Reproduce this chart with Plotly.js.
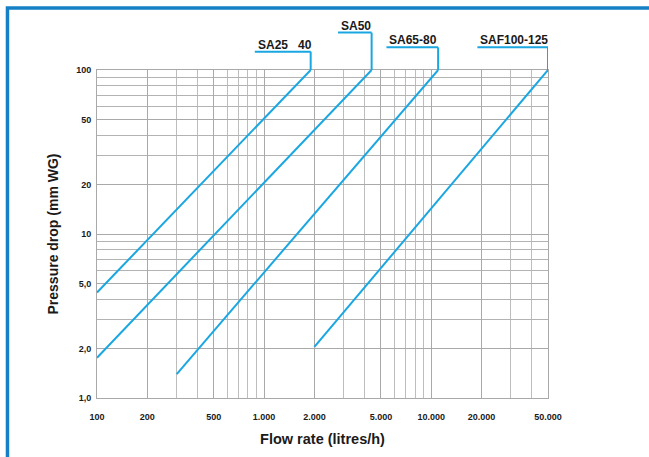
<!DOCTYPE html>
<html>
<head>
<meta charset="utf-8">
<script src="https://cdn.plot.ly/plotly-3.0.1.min.js"></script>
<style>
  html, body { margin: 0; padding: 0; background: #ffffff; }
  #chart { width: 649px; height: 457px; }
</style>
</head>
<body>
<div id="chart"></div>
<script>
// ---- data ----
const seriesNames = ['SA25\u00a0\u00a0\u00a040', 'SA50', 'SA65-80', 'SAF100-125'];
// flow rate (litres/h): start and end of each straight line
const seriesFlow = [
  [100, 1900],
  [100, 4400],
  [300, 11000],
  [2000, 50000]
];
// pressure drop (mm WG) at those points
const seriesDrop = [
  [4.4, 100],
  [1.76, 100],
  [1.4, 100],
  [2.05, 100]
];
// where each label's underline starts (flow value) and its height above the plot (fraction of plot height)
const labelFlow = [880, 2770, 5400, 18900];
const labelLevel = [1.056, 1.114, 1.069, 1.069];

const xTickVals = [100, 200, 500, 1000, 2000, 5000, 10000, 20000, 50000];
const xTickText = ['100', '200', '500', '1.000', '2.000', '5.000', '10.000', '20.000', '50.000'];
const xGridVals = [300, 400, 600, 700, 800, 900, 3000, 4000, 6000, 7000, 8000, 9000, 30000, 40000];
const yTickVals = [1, 2, 5, 10, 20, 50, 100];
const yTickText = ['1,0', '2,0', '5,0', '10', '20', '50', '100'];
const yGridVals = [3, 4, 6, 7, 8, 9, 30, 40, 60, 70, 80, 90];

// ---- styling ----
const lineColor = '#1aa7e1';
const gridColor = '#a9a9a9';
const fontFam = '"Liberation Sans", Arial, sans-serif';

const traces = seriesNames.map((name, i) => ({
  type: 'scatter',
  mode: 'lines',
  name: name,
  x: seriesFlow[i],
  y: seriesDrop[i],
  line: { color: lineColor, width: 2 },
  hoverinfo: 'x+y+name'
}));

const shapes = [];
const annotations = [];
seriesNames.forEach((name, i) => {
  const endX = seriesFlow[i][seriesFlow[i].length - 1];
  shapes.push({
    type: 'line', xref: 'x', yref: 'paper',
    x0: labelFlow[i], x1: endX, y0: labelLevel[i], y1: labelLevel[i],
    line: { color: lineColor, width: 2 }
  });
  shapes.push({
    type: 'line', xref: 'x', yref: 'paper',
    x0: endX, x1: endX, y0: labelLevel[i], y1: 1,
    line: { color: lineColor, width: 2 }
  });
  annotations.push({
    xref: 'x', yref: 'paper',
    x: Math.log10(labelFlow[i]), y: labelLevel[i],
    xanchor: 'left', yanchor: 'bottom',
    xshift: 1, yshift: -2,
    showarrow: false,
    text: name,
    font: { family: fontFam, size: 12, color: '#1a1a1a', weight: 'bold' }
  });
});

// blue frame around the picture
shapes.push({
  type: 'rect', xref: 'paper', yref: 'paper',
  x0: -0.1985, x1: 1.5, y0: -0.5, y1: 1.189,
  line: { color: '#1580c5', width: 3.5 },
  fillcolor: 'rgba(0,0,0,0)',
  layer: 'above'
});

const axisCommon = {
  type: 'log',
  showgrid: true,
  gridcolor: gridColor,
  gridwidth: 1,
  showline: true,
  mirror: true,
  linecolor: gridColor,
  linewidth: 1,
  zeroline: false,
  ticks: '',
  tickmode: 'array',
  tickfont: { family: fontFam, size: 9, color: '#1a1a1a', weight: 'bold' }
};

const layout = {
  width: 649,
  height: 457,
  margin: { l: 97, r: 101, t: 70, b: 59, pad: 0 },
  paper_bgcolor: '#ffffff',
  plot_bgcolor: '#ffffff',
  showlegend: false,
  xaxis: Object.assign({}, axisCommon, {
    range: [2, Math.log10(50000)],
    tickvals: xTickVals,
    ticktext: xTickText,
    ticklabelstandoff: 10,
    minor: { tickmode: 'array', tickvals: xGridVals, showgrid: true, gridcolor: '#bdbdbd', gridwidth: 1, ticks: '' },
    title: { text: 'Flow rate (litres/h)', standoff: 13,
      font: { family: fontFam, size: 14.5, color: '#1a1a1a', weight: 'bold' } }
  }),
  yaxis: Object.assign({}, axisCommon, {
    range: [0, 2],
    tickvals: yTickVals,
    ticktext: yTickText,
    ticklabelstandoff: 3,
    minor: { tickmode: 'array', tickvals: yGridVals, showgrid: true, gridcolor: '#b3b3b3', gridwidth: 1, ticks: '' },
    title: { text: 'Pressure drop (mm WG)', standoff: 14,
      font: { family: fontFam, size: 14, color: '#1a1a1a', weight: 'bold' } }
  }),
  shapes: shapes,
  annotations: annotations
};

Plotly.newPlot('chart', traces, layout, { displayModeBar: false, staticPlot: true });
</script>
</body>
</html>
